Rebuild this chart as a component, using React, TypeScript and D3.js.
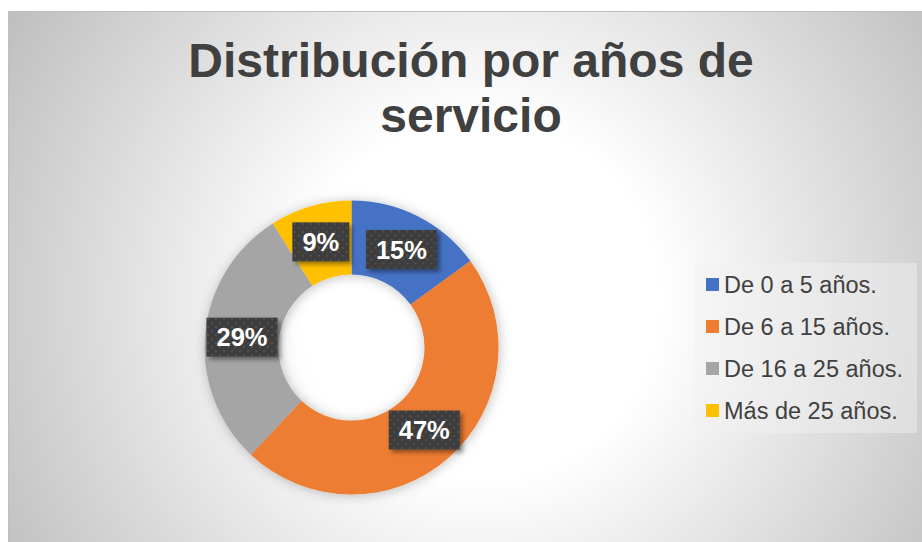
import React, { useRef, useEffect } from "react";
import * as d3 from "d3";

const categories = ["De 0 a 5 años.", "De 6 a 15 años.", "De 16 a 25 años.", "Más de 25 años."];
const values = [15, 47, 29, 9];
const colors = ["#4472c4", "#ed7d31", "#a5a5a5", "#ffc000"];
const titleLines = ["Distribución por años de", "servicio"];

const W = 922;
const H = 542;

const App = () => {
  const ref = useRef<SVGSVGElement>(null);

  useEffect(() => {
    const svg = d3.select(ref.current);
    svg.selectAll("*").remove();

    const defs = svg.append("defs");
    const grad = defs
      .append("radialGradient")
      .attr("id", "bg")
      .attr("gradientUnits", "userSpaceOnUse")
      .attr("cx", 480)
      .attr("cy", 300)
      .attr("r", 560);
    grad.append("stop").attr("offset", "0").attr("stop-color", "#ffffff");
    grad.append("stop").attr("offset", "0.32").attr("stop-color", "#ffffff");
    grad.append("stop").attr("offset", "1").attr("stop-color", "#bdbdbd");

    const pat = defs
      .append("pattern")
      .attr("id", "dots")
      .attr("patternUnits", "userSpaceOnUse")
      .attr("width", 8)
      .attr("height", 8);
    pat.append("rect").attr("width", 8).attr("height", 8).attr("fill", "#3d3d3d");
    pat.append("circle").attr("cx", 2).attr("cy", 2).attr("r", 1).attr("fill", "#575757");
    pat.append("circle").attr("cx", 6).attr("cy", 6).attr("r", 1).attr("fill", "#575757");

    const shadow = defs.append("filter").attr("id", "shadow").attr("x", "-20%").attr("y", "-20%").attr("width", "140%").attr("height", "140%");
    shadow
      .append("feDropShadow")
      .attr("dx", 1)
      .attr("dy", 1)
      .attr("stdDeviation", 6)
      .attr("flood-color", "#000")
      .attr("flood-opacity", 0.25);

    const lshadow = defs.append("filter").attr("id", "lshadow").attr("x", "-30%").attr("y", "-30%").attr("width", "160%").attr("height", "160%");
    lshadow
      .append("feDropShadow")
      .attr("dx", 3)
      .attr("dy", 3)
      .attr("stdDeviation", 2)
      .attr("flood-color", "#000")
      .attr("flood-opacity", 0.4);

    // chart area
    svg
      .append("rect")
      .attr("x", 8.5)
      .attr("y", 11.5)
      .attr("width", W)
      .attr("height", H)
      .attr("fill", "url(#bg)")
      .attr("stroke", "#bfbfbf")
      .attr("stroke-width", 1);

    // title
    svg
      .append("text")
      .attr("text-anchor", "middle")
      .style("font-family", "'Liberation Sans', Arial, sans-serif")
      .style("font-weight", 700)
      .style("font-size", "48px")
      .attr("fill", "#404040")
      .selectAll("tspan")
      .data(titleLines)
      .join("tspan")
      .attr("x", 471)
      .attr("y", (d, i) => 77 + i * 55)
      .text((d) => d);

    // donut
    const cx = 351.5;
    const cy = 347.5;
    const outerR = 147;
    const innerR = 73;

    const pie = d3
      .pie<number>()
      .value((d) => d)
      .sort(null);
    const arc = d3.arc<d3.PieArcDatum<number>>().innerRadius(innerR).outerRadius(outerR);
    const arcs = pie(values);

    const g = svg.append("g").attr("transform", `translate(${cx},${cy})`);
    g.append("g")
      .attr("filter", "url(#shadow)")
      .selectAll("path")
      .data(arcs)
      .join("path")
      .attr("d", arc)
      .attr("fill", (d, i) => colors[i]);

    // data labels
    const total = d3.sum(values);
    const labels = g
      .selectAll("g.lbl")
      .data(arcs)
      .join("g")
      .attr("class", "lbl")
      .attr("transform", (d) => `translate(${arc.centroid(d)})`);

    labels.each(function (d) {
      const lg = d3.select(this);
      const txt = `${Math.round((d.data / total) * 100)}%`;
      const t = lg
        .append("text")
        .attr("text-anchor", "middle")
        .attr("dy", "0.36em")
        .style("font-family", "'Liberation Sans', Arial, sans-serif")
        .style("font-weight", 700)
        .style("font-size", "25.5px")
        .attr("fill", "#ffffff")
        .text(txt);
      const bw = (t.node() as SVGTextElement).getComputedTextLength() + 20;
      const bh = 39;
      lg.insert("rect", "text")
        .attr("x", -bw / 2)
        .attr("y", -bh / 2)
        .attr("width", bw)
        .attr("height", bh)
        .attr("fill", "url(#dots)")
        .attr("filter", "url(#lshadow)");
    });

    // legend
    const lx = 694;
    const ly = 263;
    svg
      .append("rect")
      .attr("x", lx)
      .attr("y", ly)
      .attr("width", 223)
      .attr("height", 170)
      .attr("fill", "#f2f2f2")
      .attr("fill-opacity", 0.45);

    const items = svg
      .append("g")
      .selectAll("g")
      .data(categories)
      .join("g")
      .attr("transform", (d, i) => `translate(${lx + 12},${ly + 15 + i * 42})`);
    items
      .append("rect")
      .attr("width", 13)
      .attr("height", 13)
      .attr("fill", (d, i) => colors[i]);
    items
      .append("text")
      .attr("x", 18)
      .attr("y", 14.5)
      .style("font-family", "'Liberation Sans', Arial, sans-serif")
      .style("font-size", "23.5px")
      .attr("fill", "#404040")
      .text((d) => d);
  }, []);

  return (
    <div style={{ position: "absolute", left: 0, top: 0 }}>
      <svg ref={ref} width={W} height={H} style={{ display: "block" }} />
    </div>
  );
};

export default App;
